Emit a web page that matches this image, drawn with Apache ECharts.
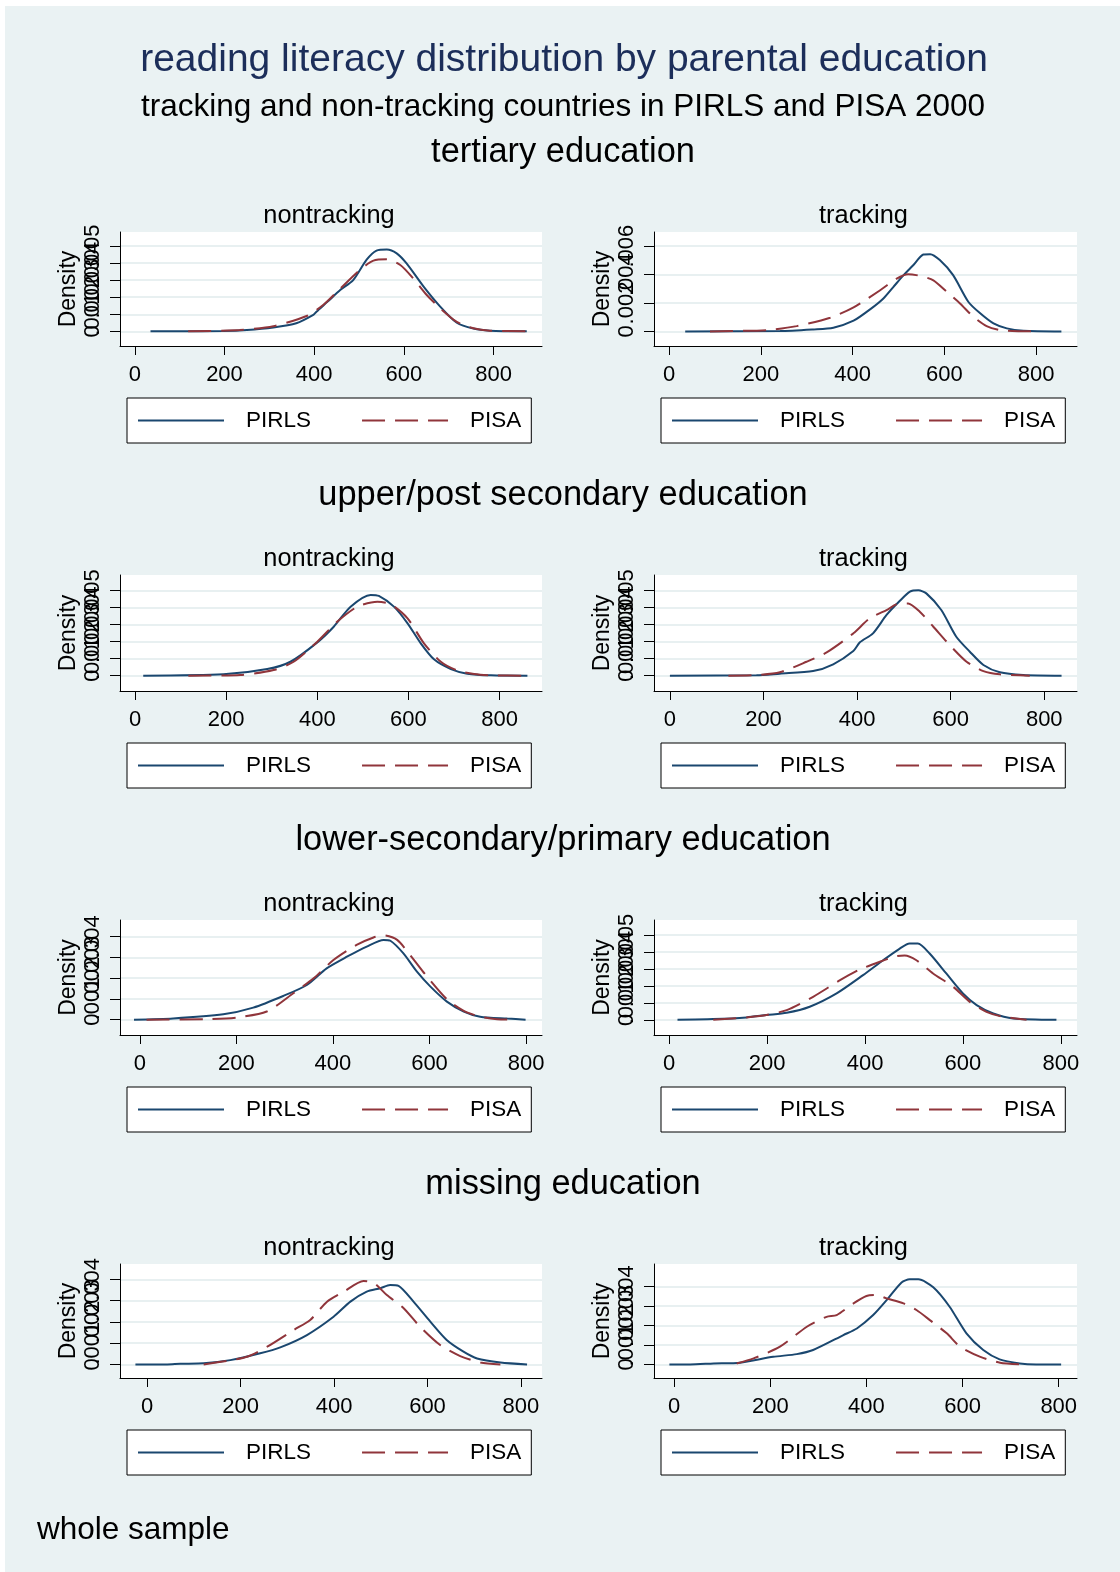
<!DOCTYPE html>
<html>
<head>
<meta charset="utf-8">
<script src="https://cdn.jsdelivr.net/npm/echarts@6/dist/echarts.min.js"></script>
<style>
  html, body { margin: 0; padding: 0; background: #ffffff; }
  #bg { position: absolute; left: 5px; top: 6px; width: 1115px; height: 1566px; background: #eaf2f3; }
  #chart { position: absolute; left: 0; top: 0; width: 1120px; height: 1572px; }
</style>
</head>
<body>
<div id="bg"></div>
<div id="chart"></div>
<script>
// ---------- DATA (reading score vs. kernel density) ----------
const seriesNames = ['PIRLS', 'PISA'];
const groupTitles = ['tertiary education', 'upper/post secondary education', 'lower-secondary/primary education', 'missing education'];
const panelTitles = ['nontracking', 'tracking'];
const xTickValues = [0, 200, 400, 600, 800];
const yTicks5 = [0, 0.001, 0.002, 0.003, 0.004, 0.005];
const yTicks4 = [0, 0.001, 0.002, 0.003, 0.004];
const yTicks6 = [0, 0.002, 0.004, 0.006];

// tertiary education, nontracking
const tertNonPirlsX = [35, 100, 197, 250, 309, 360, 398, 405, 430, 458, 487, 517, 539, 562, 584, 606, 644, 681, 718, 755, 792, 874];
const tertNonPirlsY = [0, 0, 0.00002, 0.00008, 0.00023, 0.00047, 0.00096, 0.00115, 0.00174, 0.00242, 0.00300, 0.00420, 0.00473, 0.00480, 0.00457, 0.00398, 0.00262, 0.00145, 0.00050, 0.00016, 0.00004, 0];
const tertNonPisaX = [119, 234, 309, 383, 420, 458, 502, 532, 562, 592, 621, 651, 681, 718, 755, 792, 874];
const tertNonPisaY = [0, 0.00008, 0.00030, 0.00090, 0.00154, 0.00250, 0.00360, 0.00414, 0.00422, 0.00389, 0.00310, 0.00213, 0.00135, 0.00055, 0.00018, 0.00004, 0];
// tertiary education, tracking
const tertTrkPirlsX = [35, 242, 314, 358, 402, 438, 467, 489, 511, 532, 554, 569, 590, 619, 652, 678, 707, 736, 772, 855];
const tertTrkPirlsY = [0, 0.00002, 0.00014, 0.00026, 0.00075, 0.00155, 0.00232, 0.00314, 0.00396, 0.00466, 0.00541, 0.00544, 0.00502, 0.00396, 0.00209, 0.00127, 0.00056, 0.00021, 0.00005, 0];
const tertTrkPisaX = [89, 213, 278, 351, 402, 460, 496, 521, 547, 576, 605, 634, 663, 692, 721, 765, 805];
const tertTrkPisaY = [0, 0.00009, 0.00037, 0.00096, 0.00169, 0.00290, 0.00372, 0.00403, 0.00391, 0.00360, 0.00279, 0.00197, 0.00103, 0.00037, 0.00009, 0.00001, 0];
// upper/post secondary, nontracking
const uppNonPirlsX = [18, 194, 290, 341, 400, 436, 473, 517, 535, 568, 598, 627, 656, 693, 729, 781, 861];
const uppNonPirlsY = [0, 0.00008, 0.00039, 0.00082, 0.00196, 0.00288, 0.00406, 0.00475, 0.00469, 0.00406, 0.00308, 0.00190, 0.00096, 0.00039, 0.00012, 0.00002, 0];
const uppNonPisaX = [117, 231, 304, 348, 400, 444, 488, 532, 561, 598, 634, 671, 707, 744, 781, 861];
const uppNonPisaY = [0, 0.00004, 0.00033, 0.00082, 0.00200, 0.00318, 0.00406, 0.00435, 0.00420, 0.00337, 0.00190, 0.00082, 0.00031, 0.00010, 0.00002, 0];
// upper/post secondary, tracking
const uppTrkPirlsX = [0, 185, 235, 306, 349, 392, 406, 434, 463, 491, 513, 531, 548, 580, 612, 641, 670, 705, 755, 837];
const uppTrkPirlsY = [0, 0.00002, 0.00012, 0.00027, 0.00067, 0.00145, 0.00196, 0.00249, 0.00357, 0.00439, 0.00494, 0.00502, 0.00484, 0.00386, 0.00229, 0.00141, 0.00063, 0.00020, 0.00004, 0];
const uppTrkPisaX = [125, 185, 235, 292, 335, 392, 427, 463, 491, 509, 534, 563, 598, 634, 670, 705, 769];
const uppTrkPisaY = [0, 0.00004, 0.00020, 0.00082, 0.00137, 0.00249, 0.00337, 0.00386, 0.00425, 0.00425, 0.00376, 0.00288, 0.00180, 0.00082, 0.00027, 0.00008, 0];
// lower-secondary/primary, nontracking
const lowNonPirlsX = [-12, 69, 173, 235, 297, 346, 387, 429, 470, 505, 519, 546, 574, 602, 636, 671, 705, 761, 799];
const lowNonPirlsY = [0, 0.00006, 0.00026, 0.00058, 0.00114, 0.00167, 0.00247, 0.00303, 0.00352, 0.00384, 0.00380, 0.00319, 0.00231, 0.00159, 0.00087, 0.00039, 0.00014, 0.00005, 0];
const lowNonPisaX = [14, 138, 200, 263, 318, 360, 401, 449, 484, 505, 533, 560, 595, 636, 671, 705, 740, 775];
const lowNonPisaY = [0, 0.00002, 0.00010, 0.00039, 0.00127, 0.00199, 0.00287, 0.00360, 0.00396, 0.00406, 0.00384, 0.00311, 0.00207, 0.00098, 0.00042, 0.00014, 0.00002, 0];
// lower-secondary/primary, tracking
const lowTrkPirlsX = [17, 90, 158, 199, 240, 287, 342, 396, 437, 471, 491, 508, 532, 566, 600, 628, 662, 703, 791];
const lowTrkPirlsY = [0, 0.00004, 0.00014, 0.00028, 0.00041, 0.00077, 0.00156, 0.00264, 0.00352, 0.00421, 0.00451, 0.00451, 0.00392, 0.00274, 0.00156, 0.00087, 0.00037, 0.00008, 0];
const lowTrkPisaX = [90, 185, 240, 294, 349, 389, 430, 464, 481, 505, 539, 580, 614, 648, 682, 730];
const lowTrkPisaY = [0, 0.00022, 0.00057, 0.00136, 0.00234, 0.00297, 0.00343, 0.00376, 0.00380, 0.00352, 0.00274, 0.00195, 0.00106, 0.00047, 0.00018, 0];
// missing education, nontracking
const misNonPirlsX = [-25, 43, 71, 121, 178, 242, 285, 342, 399, 435, 470, 499, 520, 538, 570, 606, 641, 677, 706, 756, 813];
const misNonPirlsY = [0, 0, 0.00003, 0.00005, 0.00020, 0.00052, 0.00080, 0.00138, 0.00224, 0.00295, 0.00342, 0.00358, 0.00373, 0.00369, 0.00295, 0.00201, 0.00115, 0.00060, 0.00028, 0.00009, 0];
const misNonPisaX = [121, 171, 214, 257, 314, 349, 385, 421, 463, 485, 513, 549, 584, 627, 670, 713, 756];
const misNonPisaY = [0, 0.00016, 0.00036, 0.00083, 0.00162, 0.00209, 0.00295, 0.00342, 0.00392, 0.00384, 0.00326, 0.00264, 0.00177, 0.00091, 0.00039, 0.00009, 0];
// missing education, tracking
const misTrkPirlsX = [-10, 33, 82, 137, 206, 255, 289, 352, 380, 414, 442, 473, 490, 508, 539, 573, 608, 643, 677, 719, 753, 805];
const misTrkPirlsY = [0, 0, 0.00005, 0.00009, 0.00039, 0.00053, 0.00074, 0.00151, 0.00185, 0.00254, 0.00331, 0.00422, 0.00438, 0.00438, 0.00397, 0.00297, 0.00160, 0.00074, 0.00026, 0.00005, 0, 0];
const misTrkPisaX = [130, 165, 220, 276, 317, 338, 373, 400, 421, 442, 477, 504, 532, 567, 595, 637, 678, 720];
const misTrkPisaY = [0.00005, 0.00031, 0.00091, 0.00194, 0.00245, 0.00254, 0.00314, 0.00352, 0.00357, 0.00340, 0.00314, 0.00280, 0.00228, 0.00160, 0.00091, 0.00039, 0.00009, 0];

// ---------- LAYOUT ----------
const FONT = '"Liberation Sans", Arial, Helvetica, sans-serif';
const C_PIRLS = '#1a476f';
const C_PISA = '#90353b';
const colLeft = [120, 654];
const colWidth = [422, 423];
const rowTop = [232, 575, 920, 1264];
const rowHeight = [114, 116, 115, 114];

const panels = [
  { r: 0, c: 0, px: tertNonPirlsX, py: tertNonPirlsY, sx: tertNonPisaX, sy: tertNonPisaY, xMin: -33, xMax: 908, yMin: -0.00086, yMax: 0.00582, yTicks: yTicks5 },
  { r: 0, c: 1, px: tertTrkPirlsX, py: tertTrkPirlsY, sx: tertTrkPisaX, sy: tertTrkPisaY, xMin: -33, xMax: 889, yMin: -0.00103, yMax: 0.0070, yTicks: yTicks6 },
  { r: 1, c: 0, px: uppNonPirlsX, py: uppNonPirlsY, sx: uppNonPisaX, sy: uppNonPisaY, xMin: -33, xMax: 893, yMin: -0.0009, yMax: 0.00592, yTicks: yTicks5 },
  { r: 1, c: 1, px: uppTrkPirlsX, py: uppTrkPirlsY, sx: uppTrkPisaX, sy: uppTrkPisaY, xMin: -34, xMax: 870, yMin: -0.0009, yMax: 0.00592, yTicks: yTicks5 },
  { r: 2, c: 0, px: lowNonPirlsX, py: lowNonPirlsY, sx: lowNonPisaX, sy: lowNonPisaY, xMin: -41, xMax: 833, yMin: -0.00074, yMax: 0.0048, yTicks: yTicks4 },
  { r: 2, c: 1, px: lowTrkPirlsX, py: lowTrkPirlsY, sx: lowTrkPisaX, sy: lowTrkPisaY, xMin: -31, xMax: 833, yMin: -0.0009, yMax: 0.0059, yTicks: yTicks5 },
  { r: 3, c: 0, px: misNonPirlsX, py: misNonPirlsY, sx: misNonPisaX, sy: misNonPisaY, xMin: -58, xMax: 845, yMin: -0.00064, yMax: 0.00472, yTicks: yTicks4 },
  { r: 3, c: 1, px: misTrkPirlsX, py: misTrkPirlsY, sx: misTrkPisaX, sy: misTrkPisaY, xMin: -42, xMax: 838, yMin: -0.0007, yMax: 0.00517, yTicks: yTicks4 }
];

function zip(xs, ys) { return xs.map((x, i) => [x, ys[i]]); }
function yFmt(v) { return v === 0 ? '0' : String(v).replace(/^0/, ''); }

const grids = [], xAxes = [], yAxes = [], series = [], legends = [], graphics = [];
const yLabelStyle = { rotate: 90, fontSize: 22, color: '#000', margin: 16, fontFamily: FONT, formatter: yFmt, hideOverlap: false, showMinLabel: true, showMaxLabel: true };

panels.forEach((p, i) => {
  grids.push({
    left: colLeft[p.c], top: rowTop[p.r], width: colWidth[p.c], height: rowHeight[p.r],
    show: true, backgroundColor: '#ffffff', borderWidth: 0, containLabel: false
  });
  xAxes.push({
    type: 'value', gridIndex: i, min: p.xMin, max: p.xMax,
    axisLine: { show: true, onZero: false, lineStyle: { color: '#000', width: 1 } },
    axisTick: { show: true, length: 9, customValues: xTickValues, lineStyle: { color: '#000', width: 1 } },
    axisLabel: { customValues: xTickValues, fontSize: 22, color: '#000', margin: 18, fontFamily: FONT, showMinLabel: true, showMaxLabel: true },
    splitLine: { show: false }
  });
  const mainY = yAxes.length;
  yAxes.push({
    type: 'value', gridIndex: i, min: p.yMin, max: p.yMax, position: 'left', offset: 0,
    name: 'Density', nameLocation: 'middle', nameGap: 40, nameRotate: 90,
    nameTextStyle: { fontSize: 23, color: '#000', fontFamily: FONT },
    axisLine: { show: true, onZero: false, lineStyle: { color: '#000', width: 1 } },
    axisTick: { show: true, length: 10, customValues: p.yTicks, lineStyle: { color: '#000', width: 1 } },
    axisLabel: { show: false, customValues: p.yTicks },
    splitLine: { show: true, lineStyle: { color: '#e8f0f1', width: 2 } }
  });
  // one label-only axis per tick so the overlapping rotated labels are all kept
  p.yTicks.forEach(v => {
    yAxes.push({
      type: 'value', gridIndex: i, min: p.yMin, max: p.yMax, position: 'left', offset: 0,
      axisLine: { show: false }, axisTick: { show: false }, splitLine: { show: false },
      axisLabel: Object.assign({ customValues: [v] }, yLabelStyle)
    });
  });
  series.push({
    name: seriesNames[0], type: 'line', xAxisIndex: i, yAxisIndex: mainY,
    data: zip(p.px, p.py), symbol: 'none', showSymbol: false, smooth: 0.25,
    lineStyle: { color: C_PIRLS, width: 2 }, itemStyle: { color: C_PIRLS }, z: 3
  });
  series.push({
    name: seriesNames[1], type: 'line', xAxisIndex: i, yAxisIndex: mainY,
    data: zip(p.sx, p.sy), symbol: 'none', showSymbol: false, smooth: 0.25,
    lineStyle: { color: C_PISA, width: 2, type: [23, 10] }, itemStyle: { color: C_PISA }, z: 4
  });
  legends.push({
    data: seriesNames, left: colLeft[p.c] + 7, top: rowTop[p.r] + rowHeight[p.r] + 52,
    orient: 'horizontal', backgroundColor: '#ffffff', borderColor: '#000', borderWidth: 1,
    padding: [11, 10, 11, 10], itemWidth: 86, itemHeight: 22, itemGap: 50,
    selectedMode: false,
    itemStyle: { opacity: 0 },
    textStyle: { fontSize: 22.5, color: '#000', fontFamily: FONT, padding: [0, 0, 0, 17] }
  });
  // panel subtitles
  graphics.push({
    type: 'text', x: colLeft[p.c] + colWidth[p.c] / 2 - 2, y: rowTop[p.r] - 16,
    style: { text: panelTitles[p.c], fontSize: 25.4, fontFamily: FONT, fill: '#000', align: 'center', verticalAlign: 'middle' }
  });
});

// group titles
groupTitles.forEach((t, r) => {
  graphics.push({
    type: 'text', x: 563, y: rowTop[r] - 79,
    style: { text: t, fontSize: 34.4, fontFamily: FONT, fill: '#000', align: 'center', verticalAlign: 'middle' }
  });
});
graphics.push({ type: 'text', x: 564, y: 60, style: { text: 'reading literacy distribution by parental education', fontSize: 39, fontFamily: FONT, fill: '#1c2e5a', align: 'center', verticalAlign: 'middle' } });
graphics.push({ type: 'text', x: 563, y: 107, style: { text: 'tracking and non-tracking countries in PIRLS and PISA 2000', fontSize: 31.5, fontFamily: FONT, fill: '#000', align: 'center', verticalAlign: 'middle' } });
graphics.push({ type: 'text', x: 37, y: 1530, style: { text: 'whole sample', fontSize: 31.5, fontFamily: FONT, fill: '#000', align: 'left', verticalAlign: 'middle' } });

const chart = echarts.init(document.getElementById('chart'), null, { renderer: 'canvas' });
chart.setOption({
  animation: false,
  backgroundColor: 'transparent',
  textStyle: { fontFamily: FONT },
  grid: grids, xAxis: xAxes, yAxis: yAxes, series: series, legend: legends,
  graphic: graphics
});
</script>
</body>
</html>
